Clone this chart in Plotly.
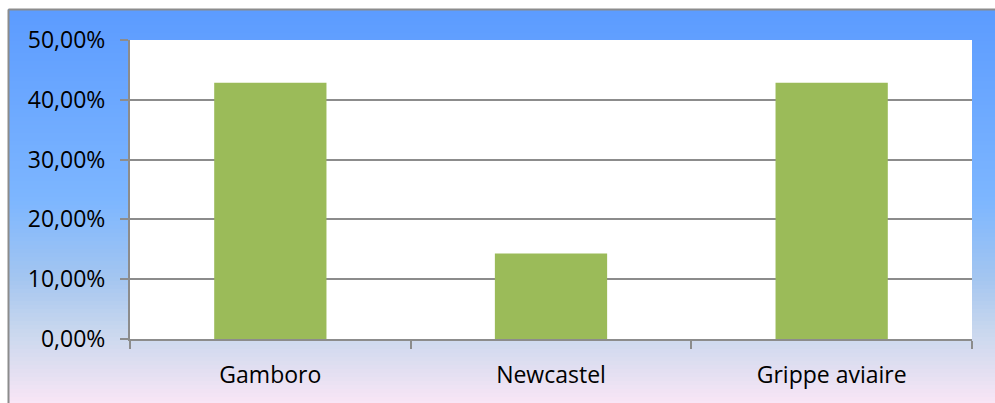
import plotly.graph_objects as go

categories = ["Gamboro", "Newcastel", "Grippe aviaire"]
values = [0.4286, 0.1429, 0.4286]
tick_vals = [0, 0.1, 0.2, 0.3, 0.4, 0.5]

W, H = 995, 403
ML, MR, MT, MB = 130, 23, 40, 64

# gradient stops (pixel y from top, rgb)
stops = [
    (0, (90, 154, 255)),
    (200, (125, 182, 255)),
    (280, (165, 198, 240)),
    (330, (200, 215, 238)),
    (370, (226, 223, 241)),
    (403, (249, 230, 246)),
]

def color_at(y):
    for (y0, c0), (y1, c1) in zip(stops[:-1], stops[1:]):
        if y0 <= y <= y1:
            t = (y - y0) / (y1 - y0)
            return "rgb(%d,%d,%d)" % tuple(round(a + (b - a) * t) for a, b in zip(c0, c1))
    return "rgb(%d,%d,%d)" % stops[-1][1]

shapes = []
x_left = 8
y_top = 9
step = 4
y = y_top
while y < H:
    y2 = min(y + step, H)
    shapes.append(dict(type="rect", xref="paper", yref="paper",
                       x0=(x_left - ML) / (W - ML - MR), x1=(W - ML) / (W - ML - MR) + 0.01,
                       y0=(H - MB - y2) / (H - MT - MB), y1=(H - MB - y) / (H - MT - MB),
                       fillcolor=color_at((y + y2) / 2), line=dict(width=0), layer="below"))
    y = y2

# outer border (left and top)
bx = (x_left + 0.5 - ML) / (W - ML - MR)
by = (H - MB - (y_top + 0.5)) / (H - MT - MB)
shapes.append(dict(type="line", xref="paper", yref="paper", x0=bx, x1=bx,
                   y0=(H - MB - H - 5) / (H - MT - MB), y1=by,
                   line=dict(color="#8C8C8C", width=2), layer="below"))
shapes.append(dict(type="line", xref="paper", yref="paper", x0=bx, x1=(W - ML) / (W - ML - MR) + 0.01,
                   y0=by, y1=by, line=dict(color="#8C8C8C", width=2), layer="below"))

# white plot area
shapes.append(dict(type="rect", xref="x domain", yref="y domain", x0=0, x1=1, y0=0, y1=1,
                   fillcolor="white", line=dict(width=0), layer="below"))

fig = go.Figure(go.Bar(
    x=categories, y=values,
    marker=dict(color="#9BBB59", line=dict(width=0)),
))

font = "Open Sans"
fs = 23
fig.update_layout(
    width=W, height=H,
    margin=dict(l=ML, r=MR, t=MT, b=MB),
    paper_bgcolor="white",
    plot_bgcolor="rgba(0,0,0,0)",
    separators=", ",
    bargap=0.6,
    showlegend=False,
    shapes=shapes,
    font=dict(family=font, size=fs, color="#000000"),
    xaxis=dict(
        showgrid=False, showline=True, linecolor="#8C8C8C", linewidth=2,
        ticks="outside", tickson="boundaries", ticklen=8, tickcolor="#8C8C8C", tickwidth=2,
        ticklabelstandoff=14,
        tickfont=dict(family=font, size=fs, color="#000000"),
    ),
    yaxis=dict(
        range=[0, 0.5], tickvals=tick_vals, tickformat=".2%",
        showgrid=True, gridcolor="#8C8C8C", gridwidth=1.5,
        showline=True, linecolor="#8C8C8C", linewidth=2,
        ticks="outside", ticklen=8, tickcolor="#8C8C8C", tickwidth=2,
        ticklabelstandoff=10,
        zeroline=False,
        tickfont=dict(family=font, size=fs, color="#000000"),
    ),
)

fig.write_html("out.html")
